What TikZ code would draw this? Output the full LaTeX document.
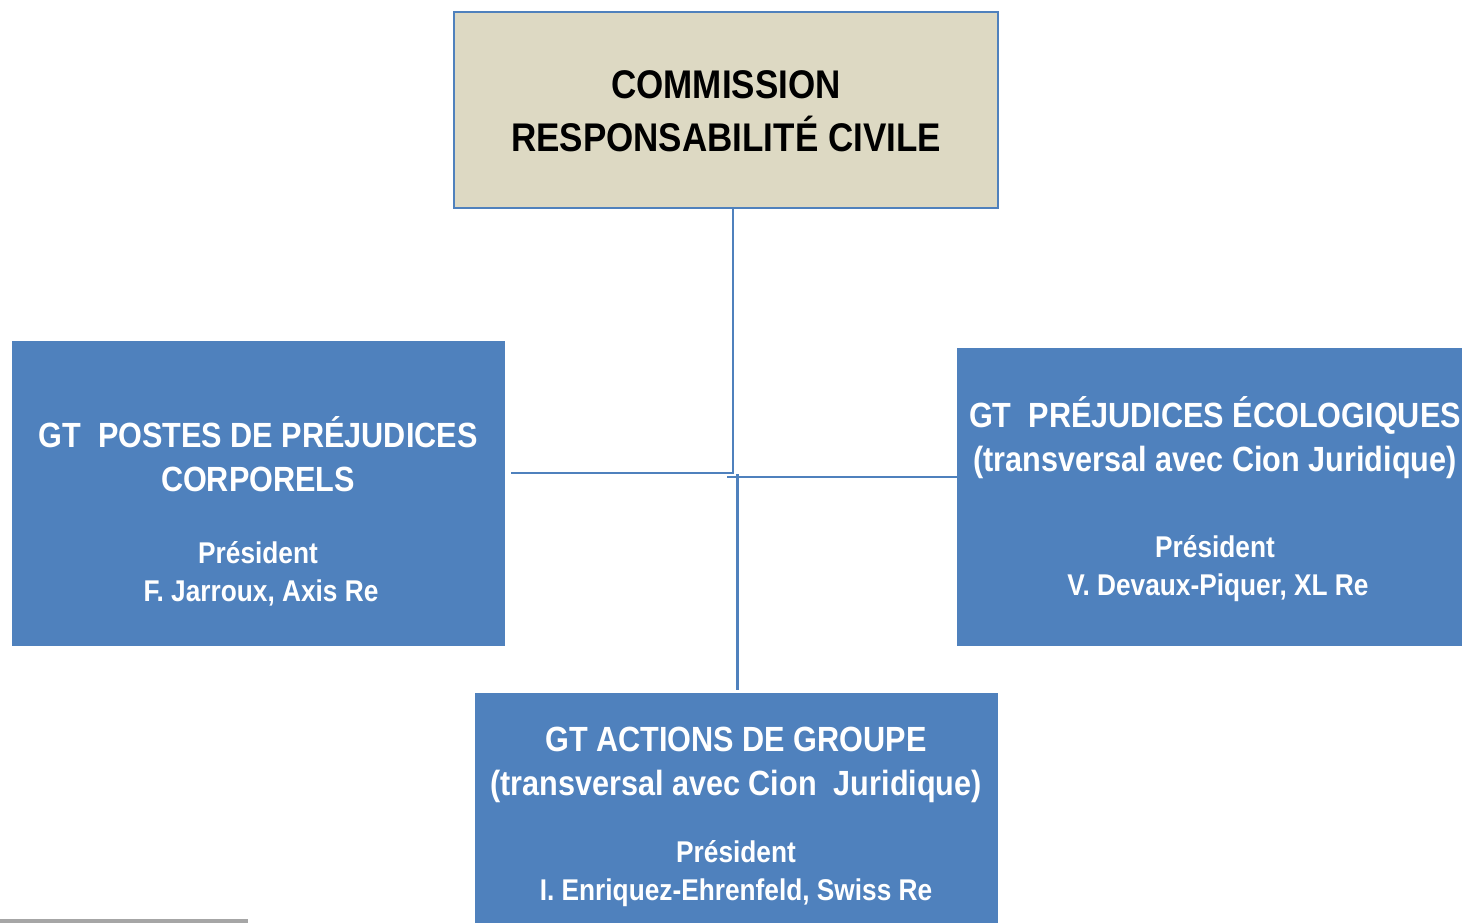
\documentclass[tikz,border=0pt]{standalone}
\usepackage{fontspec}
\setmainfont{Liberation Sans}[FakeStretch=0.875]
\definecolor{boxblue}{HTML}{4F81BD}
\definecolor{tan}{HTML}{DDD9C3}
\definecolor{rulegray}{HTML}{A6A6A6}
\begin{document}
\begin{tikzpicture}[x=1pt,y=-1pt,
  bluebox/.style={draw=none,fill=boxblue,minimum width=#1,inner sep=0pt},
  txt/.style={anchor=base,inner sep=0pt,font=\bfseries},
  titleW/.style={txt,text=white,font=\bfseries\fontsize{35}{44}\selectfont},
  presW/.style={txt,text=white,font=\bfseries\fontsize{30}{38}\selectfont},
  link/.style={draw=boxblue,line width=2pt}]
\useasboundingbox (0,0) rectangle (1462,923);
% boxes
\node[draw=boxblue,line width=1.5pt,fill=tan,minimum width=544pt,minimum height=196pt,inner sep=0pt] (top) at (726,110) {};
\node[bluebox=493pt,minimum height=305pt] (left) at (258.5,493.5) {};
\node[bluebox=506pt,minimum height=298pt] (right) at (1210,497) {};
\node[bluebox=523pt,minimum height=230pt] (bottom) at (736.5,808) {};
% texts
\node[txt,font=\bfseries\fontsize{40}{52}\selectfont] (t1) at (726,99) {COMMISSION};
\node[txt,font=\bfseries\fontsize{40}{52}\selectfont] (t2) at (726,152) {RESPONSABILITÉ CIVILE};
\node[titleW] (l1) at (258,447) {GT\ \ POSTES DE PRÉJUDICES};
\node[titleW] (l2) at (258,491) {CORPORELS};
\node[presW] (l3) at (258,563) {Président};
\node[presW] (l4) at (261,601) {F. Jarroux, Axis Re};
\node[titleW] (r1) at (1215,427) {GT\ \ PRÉJUDICES ÉCOLOGIQUES};
\node[titleW] (r2) at (1215,471) {(transversal avec Cion Juridique)};
\node[presW] (r3) at (1215,557) {Président};
\node[presW] (r4) at (1218,595) {V. Devaux-Piquer, XL Re};
\node[titleW] (b1) at (736,751) {GT ACTIONS DE GROUPE};
\node[titleW] (b2) at (736,795) {(transversal avec Cion\ \ Juridique)};
\node[presW] (b3) at (736,862) {Président};
\node[presW] (b4) at (736,900) {I. Enriquez-Ehrenfeld, Swiss Re};
% connectors
\coordinate (jL) at (733,473);
\coordinate (lend) at (511,473);
\coordinate (jR) at (727,477);
\coordinate (jB) at (737,474);
\coordinate (bend) at (737,690);
\draw[link] (top.south -| jL) -- (jL) -- (lend);
\draw[link] (jR) -- (right.west |- jR);
\draw[link,line width=3pt] (jB) -- (bend);
% bottom-left rule
\fill[rulegray] (0,919) rectangle (248,923);
\end{tikzpicture}
\end{document}
